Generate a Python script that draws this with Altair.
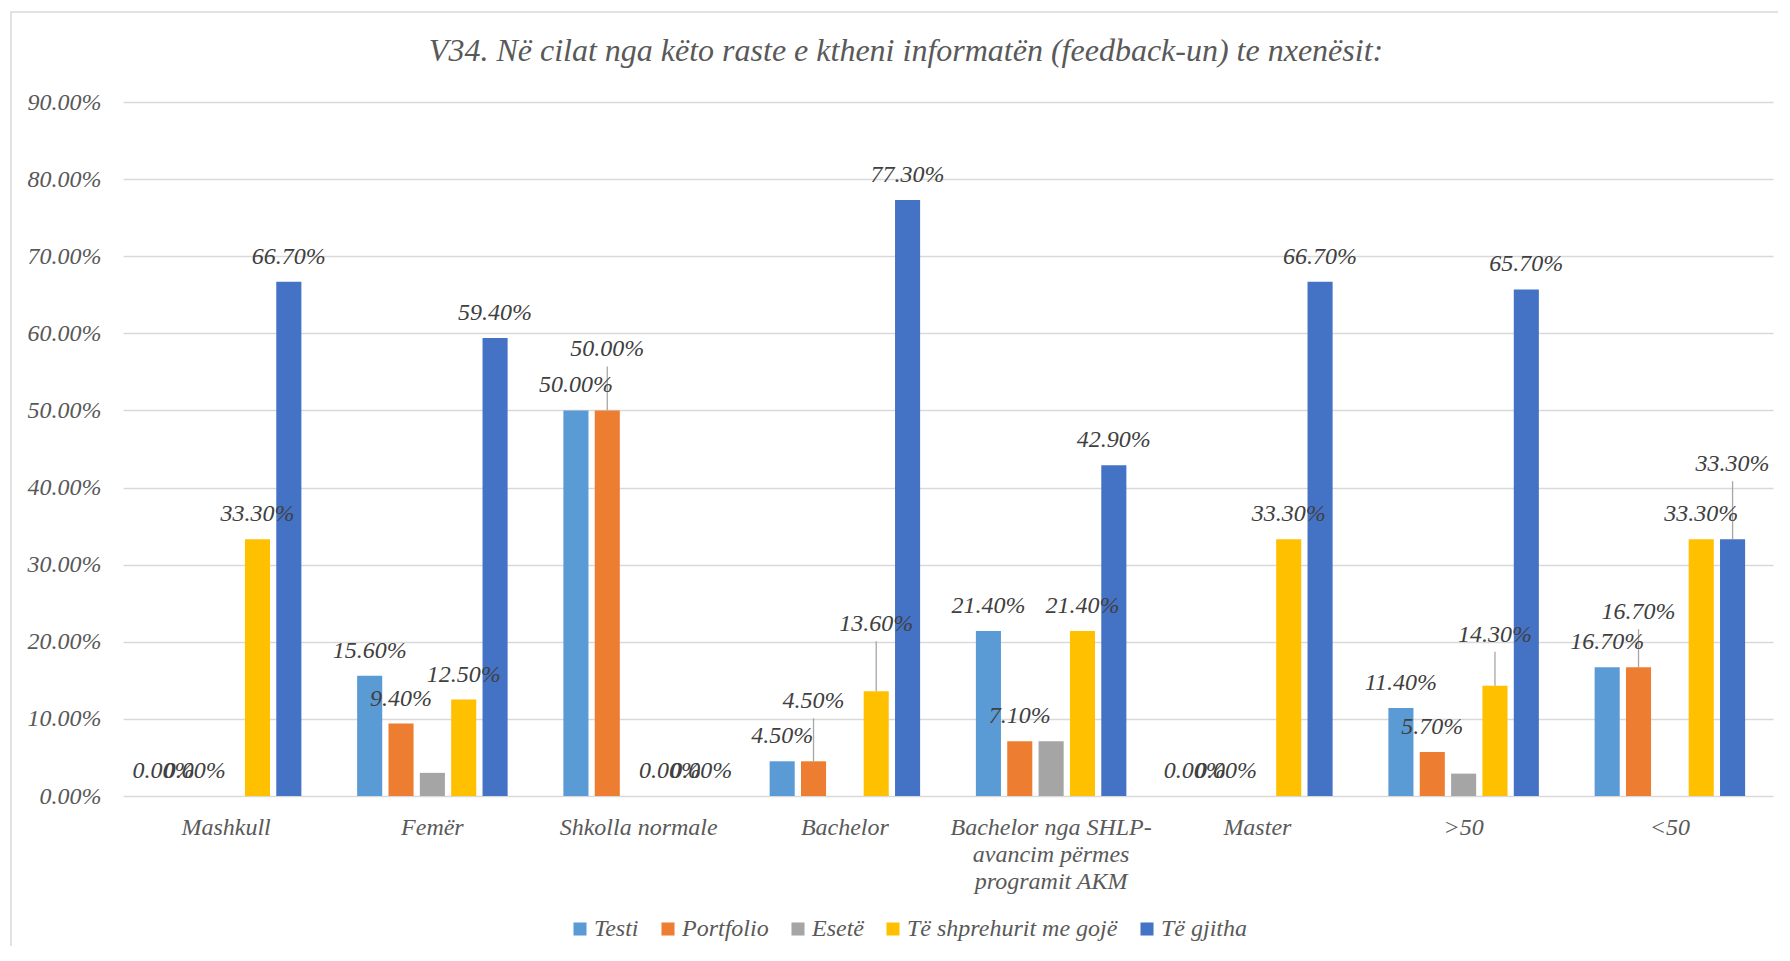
import altair as alt
import pandas as pd

categories = ["Mashkull", "Femër", "Shkolla normale", "Bachelor",
              "Bachelor nga SHLP-avancim përmes programit AKM", "Master", ">50", "<50"]
series = ["Testi", "Portfolio", "Esetë", "Të shprehurit me gojë", "Të gjitha"]
testi = [0.0, 15.6, 50.0, 4.5, 21.4, 0.0, 11.4, 16.7]
portfolio = [0.0, 9.4, 50.0, 4.5, 7.1, 0.0, 5.7, 16.7]
esete = [None, 3.0, None, None, 7.1, None, 2.9, None]
shprehurit = [33.3, 12.5, 0.0, 13.6, 21.4, 33.3, 14.3, 33.3]
gjitha = [66.7, 59.4, 0.0, 77.3, 42.9, 66.7, 65.7, 33.3]
colors = ["#5B9BD5", "#ED7D31", "#A5A5A5", "#FFC000", "#4472C4"]
title_text = "V34. Në cilat nga këto raste e ktheni informatën (feedback-un) te nxenësit:"

# label lifts (px) for data labels moved away from their bars, with leader lines
label_lift = {("Shkolla normale", "Portfolio"): 36, ("Bachelor", "Portfolio"): 35,
              ("Bachelor", "Të shprehurit me gojë"): 42, (">50", "Të shprehurit me gojë"): 26,
              ("<50", "Portfolio"): 30, ("<50", "Të gjitha"): 50}

rows = []
for s, vals in zip(series, [testi, portfolio, esete, shprehurit, gjitha]):
    for c, v in zip(categories, vals):
        if v is None:
            continue
        rows.append({"cat": c, "series": s, "value": v / 100.0,
                     "lift": label_lift.get((c, s), 0)})
df = pd.DataFrame(rows)

W, H = 1650, 694
YMAX = 0.9
PPU = H / YMAX
FONT = "Liberation Serif"
FS = 24

wrap_expr = ("datum.value == 'Bachelor nga SHLP-avancim përmes programit AKM' ? "
             "['Bachelor nga SHLP-', 'avancim përmes', 'programit AKM'] : datum.value")

x_enc = alt.X("cat:N", sort=categories, title=None,
              scale=alt.Scale(paddingInner=0.24, paddingOuter=0.12),
              axis=alt.Axis(labelAngle=0, domain=False, ticks=False, labelPadding=19,
                            labelFont=FONT, labelFontStyle="italic", labelFontSize=FS,
                            labelColor="#595959", labelLimit=400, labelLineHeight=27,
                            labelExpr=wrap_expr))
xo_enc = alt.XOffset("series:N", sort=series,
                     scale=alt.Scale(paddingInner=0.2, paddingOuter=0.1))
y_enc = alt.Y("value:Q", title=None,
              scale=alt.Scale(domain=[0, YMAX], nice=False),
              axis=alt.Axis(format=".2%", values=[i / 10 for i in range(10)],
                            domain=False, ticks=False, labelPadding=22,
                            labelFont=FONT, labelFontStyle="italic", labelFontSize=FS,
                            labelColor="#595959", gridColor="#D9D9D9", gridWidth=1.5))

base = alt.Chart(df)

bars = base.mark_bar().encode(
    x=x_enc, xOffset=xo_enc, y=y_enc,
    color=alt.Color("series:N", sort=series,
                    scale=alt.Scale(domain=series, range=colors),
                    legend=alt.Legend(title=None, orient="none", direction="horizontal",
                                      legendX=445, legendY=815, symbolType="square",
                                      symbolSize=170, symbolStrokeWidth=0,
                                      columnPadding=17, labelOffset=2,
                                      labelFont=FONT, labelFontStyle="italic",
                                      labelFontSize=FS, labelColor="#595959",
                                      labelLimit=400)),
)

lab_data = base.transform_filter(alt.datum.series != "Esetë").transform_calculate(
    ly=f"datum.value + datum.lift / {PPU}")

labels = lab_data.mark_text(font=FONT, fontStyle="italic", fontSize=FS, color="#404040",
                            baseline="middle", dy=-25).encode(
    x=alt.X("cat:N", sort=categories), xOffset=alt.XOffset("series:N", sort=series),
    y=alt.Y("ly:Q"), text=alt.Text("value:Q", format=".2%"))

leaders = base.transform_filter(alt.datum.lift > 0).transform_calculate(
    ly2=f"datum.value + (datum.lift + 8) / {PPU}").mark_rule(
    color="#A6A6A6", strokeWidth=1.3).encode(
    x=alt.X("cat:N", sort=categories), xOffset=alt.XOffset("series:N", sort=series),
    y=alt.Y("value:Q"), y2="ly2:Q")

one = pd.DataFrame({"t": [title_text]})

frame = alt.Chart(one).mark_rect(
    fill="white", fillOpacity=0, stroke="#D9D9D9", strokeWidth=1.5).encode(
    x=alt.value(-112), x2=alt.value(1700), y=alt.value(-90), y2=alt.value(900))

title = alt.Chart(one).mark_text(
    font=FONT, fontStyle="italic", fontSize=32, color="#595959",
    align="center", baseline="middle").encode(
    x=alt.value(783), y=alt.value(-51), text="t:N")

chart = alt.layer(frame, title, bars, leaders, labels).properties(
    width=W, height=H,
    padding={"left": 115, "top": 94, "right": 5, "bottom": 150},
    autosize=alt.AutoSizeParams(type="none"),
    background="white",
).configure_view(stroke=None)

chart.save("out.html", embed_options={"renderer": "svg", "actions": False})
